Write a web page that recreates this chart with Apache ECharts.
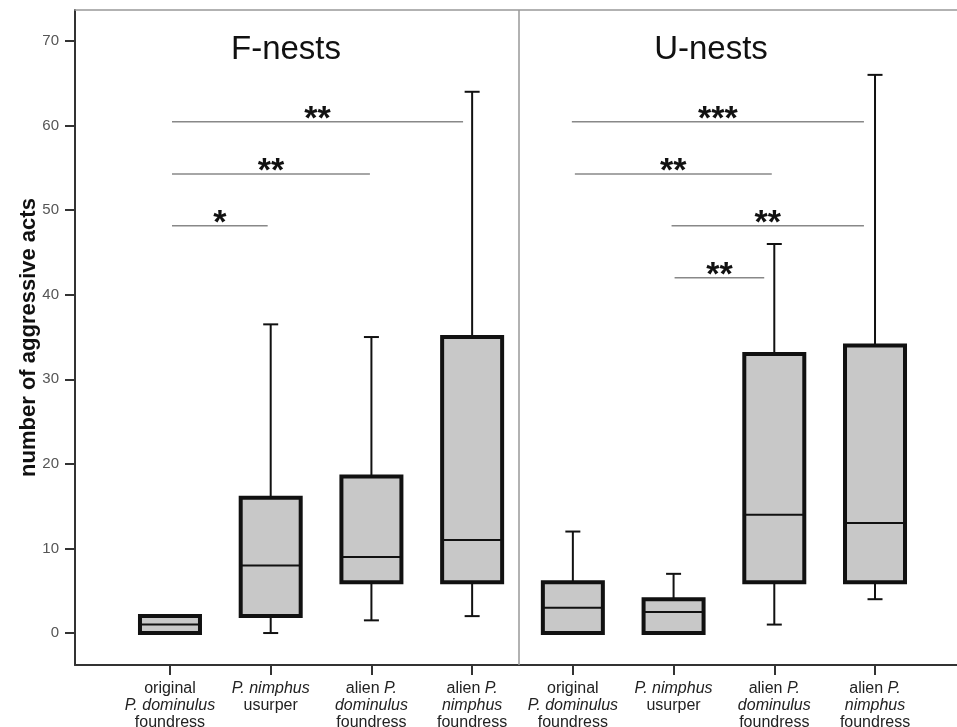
<!DOCTYPE html>
<html>
<head>
<meta charset="utf-8">
<script src="https://cdn.jsdelivr.net/npm/echarts@6/dist/echarts.min.js"></script>
<style>
html,body{margin:0;padding:0;background:#fff;}
#chart{width:957px;height:727px;}
</style>
</head>
<body>
<div id="chart"></div>
<script>
// ---- data ----
const positions   = [1, 2, 3, 4, 5, 6, 7, 8];
const xLabels = [
  'original\n{i|P. dominulus}\nfoundress',
  '{i|P. nimphus}\nusurper',
  'alien {i|P.}\n{i|dominulus}\nfoundress',
  'alien {i|P.}\n{i|nimphus}\nfoundress',
  'original\n{i|P. dominulus}\nfoundress',
  '{i|P. nimphus}\nusurper',
  'alien {i|P.}\n{i|dominulus}\nfoundress',
  'alien {i|P.}\n{i|nimphus}\nfoundress'
];
const whiskerLow  = [0, 0, 1.5, 2, 0, 0, 1, 4];
const q1          = [0, 2, 6, 6, 0, 0, 6, 6];
const median      = [1, 8, 9, 11, 3, 2.5, 14, 13];
const q3          = [2, 16, 18.5, 35, 6, 4, 33, 34];
const whiskerHigh = [2, 36.5, 35, 64, 12, 7, 46, 66];

const yTicks = [0, 10, 20, 30, 40, 50, 60, 70];

// significance brackets
const sigFrom  = [1.02, 1.02, 1.02, 4.99, 5.02, 5.98, 6.01];
const sigTo    = [3.91, 2.985, 1.97, 7.89, 6.975, 7.89, 6.90];
const sigLevel = [60.46, 54.27, 48.16, 60.46, 54.27, 48.16, 42.0];
const sigLabel = ['**', '**', '*', '***', '**', '**', '**'];

const panelTitles = ['F-nests', 'U-nests'];
const dividerX = 4.464;

// ---- build ----
const boxData = positions.map((p, i) => [p, whiskerLow[i], q1[i], median[i], q3[i], whiskerHigh[i]]);
const sigData = sigFrom.map((f, i) => [f, sigTo[i], sigLevel[i], sigLabel[i]]);

const FONT = "'Liberation Sans', Arial, sans-serif";
const chart = echarts.init(document.getElementById('chart'));

const option = {
  backgroundColor: '#fff',
  animation: false,
  grid: { left: 75, right: 0, top: 10, bottom: 62, containLabel: false, outerBoundsMode: 'none' },
  xAxis: [{
    type: 'value',
    min: 0.057, max: 8.814,
    splitLine: { show: false },
    axisLine: { show: true, onZero: false, lineStyle: { color: '#333', width: 2 } },
    axisTick: { show: true, customValues: positions, length: 10, lineStyle: { color: '#333', width: 2 } },
    axisLabel: {
      customValues: positions,
      formatter: v => xLabels[Math.round(v) - 1] || '',
      fontFamily: FONT, fontSize: 16, color: '#222', lineHeight: 17, margin: 15,
      align: 'center', verticalAlign: 'top',
      rich: { i: { fontStyle: 'italic', fontFamily: FONT, fontSize: 16, color: '#222', lineHeight: 17 } }
    }
  }, {
    type: 'value', position: 'top',
    min: 0.057, max: 8.814,
    splitLine: { show: false },
    axisLine: { show: true, onZero: false, lineStyle: { color: '#999', width: 1.5 } },
    axisTick: { show: false }, axisLabel: { show: false }
  }],
  yAxis: {
    type: 'value',
    min: -3.78, max: 73.67,
    splitLine: { show: false },
    axisLine: { show: true, onZero: false, lineStyle: { color: '#333', width: 2 } },
    axisTick: { show: true, customValues: yTicks, length: 10, lineStyle: { color: '#333', width: 2 } },
    axisLabel: { customValues: yTicks, fontFamily: FONT, fontSize: 15, color: '#555', margin: 16 },
    name: 'number of aggressive acts',
    nameLocation: 'middle',
    nameGap: 35,
    nameMoveOverlap: false,
    nameTextStyle: { fontFamily: FONT, fontSize: 22, fontWeight: 'bold', color: '#111' }
  },
  graphic: [
    { type: 'text', x: 286, y: 50, style: { text: panelTitles[0], font: '33px ' + FONT, fill: '#111', align: 'center', verticalAlign: 'middle' } },
    { type: 'text', x: 711, y: 50, style: { text: panelTitles[1], font: '33px ' + FONT, fill: '#111', align: 'center', verticalAlign: 'middle' } }
  ],
  series: [{
    type: 'custom',
    name: 'sig',
    silent: true,
    data: sigData,
    encode: { x: [0, 1], y: 2 },
    renderItem: function (params, api) {
      const a = api.coord([api.value(0), api.value(2)]);
      const b = api.coord([api.value(1), api.value(2)]);
      const label = sigLabel[params.dataIndex];
      return {
        type: 'group',
        children: [
          { type: 'line', shape: { x1: a[0], y1: a[1], x2: b[0], y2: b[1] }, style: { stroke: '#888', lineWidth: 1.5 } },
          { type: 'text', x: (a[0] + b[0]) / 2, y: a[1] - 2,
            style: { text: label, font: 'bold 34px ' + FONT, fill: '#111', align: 'center', verticalAlign: 'middle' } }
        ]
      };
    },
    markLine: {
      silent: true, symbol: 'none', label: { show: false },
      lineStyle: { color: '#999', width: 1.5, type: 'solid' },
      data: [{ xAxis: dividerX }]
    }
  }, {
    type: 'custom',
    name: 'boxes',
    silent: true,
    data: boxData,
    encode: { x: 0, y: [1, 2, 3, 4, 5] },
    renderItem: function (params, api) {
      const x = api.value(0);
      const pLow = api.coord([x, api.value(1)]);
      const pQ1 = api.coord([x, api.value(2)]);
      const pMed = api.coord([x, api.value(3)]);
      const pQ3 = api.coord([x, api.value(4)]);
      const pHigh = api.coord([x, api.value(5)]);
      const cx = pQ1[0];
      const bw = 60, cap = 15;
      const lineStyle = { stroke: '#111', lineWidth: 2 };
      return {
        type: 'group',
        children: [
          { type: 'line', shape: { x1: cx, y1: pQ3[1], x2: cx, y2: pHigh[1] }, style: lineStyle },
          { type: 'line', shape: { x1: cx - cap / 2, y1: pHigh[1], x2: cx + cap / 2, y2: pHigh[1] }, style: lineStyle },
          { type: 'line', shape: { x1: cx, y1: pQ1[1], x2: cx, y2: pLow[1] }, style: lineStyle },
          { type: 'line', shape: { x1: cx - cap / 2, y1: pLow[1], x2: cx + cap / 2, y2: pLow[1] }, style: lineStyle },
          { type: 'rect', shape: { x: cx - bw / 2, y: pQ3[1], width: bw, height: pQ1[1] - pQ3[1] },
            style: { fill: '#c8c8c8', stroke: '#111', lineWidth: 4 } },
          { type: 'line', shape: { x1: cx - bw / 2, y1: pMed[1], x2: cx + bw / 2, y2: pMed[1] }, style: lineStyle }
        ]
      };
    }
  }]
};
chart.setOption(option);
</script>
</body>
</html>
